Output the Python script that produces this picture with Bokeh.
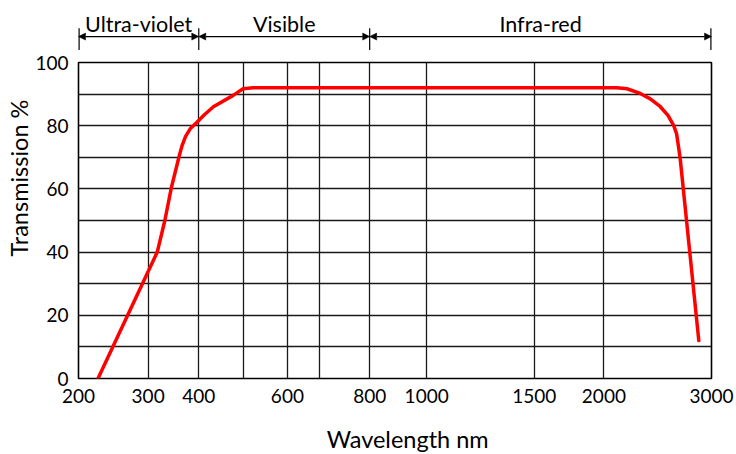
import numpy as np
from bokeh.plotting import figure
from bokeh.layouts import column
from bokeh.models import FixedTicker, Arrow, NormalHead, Title
from bokeh.core.properties import value
from bokeh.embed import file_html
from bokeh.resources import INLINE

# --- custom (piecewise) wavelength scale: wavelength -> percent of axis width
scale_wl = [200, 300, 400, 500, 600, 700, 800, 1000, 1500, 2000, 3000]
scale_pos = [0, 11, 19, 26, 33, 38, 46, 55, 72, 83, 100]

# --- tick labels
x_label_wl = [200, 300, 400, 600, 800, 1000, 1500, 2000, 3000]
x_label_txt = ["200", "300", "400", "600", "800", "1000", "1500", "2000", "3000"]
x_grid_wl = [200, 300, 400, 500, 600, 700, 800, 1000, 1500, 2000, 3000]
y_ticks = [0, 20, 40, 60, 80, 100]
y_grid = [0, 10, 20, 30, 40, 50, 60, 70, 80, 90, 100]

# --- transmission curve
wavelength = [228, 318, 333, 346, 361.5, 367, 374, 383, 396, 412, 433, 477.6, 500, 523,
              2121, 2214, 2338, 2431, 2525, 2597, 2649, 2675, 2695, 2711, 2882]
transmission = [0, 40, 50, 60.5, 70.5, 73.7, 76.6, 79, 81, 83.4, 86, 89.6, 91.7, 92,
                92, 91.7, 90.2, 88.5, 86, 83.2, 80, 77.5, 73, 69, 12]

# --- spectral regions
region_names = ["Ultra-violet", "Visible", "Infra-red"]
region_start = [200, 400, 800]
region_end = [400, 800, 3000]

x_title = "Wavelength nm"
y_title = "Transmission %"


def sx(w):
    return np.interp(w, scale_wl, scale_pos)


FONT = "Lato"
FS_TICK = "19px"
FS_REGION = "21.5px"
FS_TITLE = "23.5px"

# geometry (pixels)
W = 736
FRAME_W, FRAME_H = 633, 316
MAIN_L, MAIN_R = 78, 25
TOP_H, GAP_TOP, BOT_B, BOTTOM_H = 50, 12, 32, 44
px_y = 100 / FRAME_H          # y units per pixel


def blank(**kw):
    f = figure(output_backend="svg", toolbar_location=None,
               x_axis_type=None, y_axis_type=None, **kw)
    f.outline_line_color = None
    f.background_fill_color = "white"
    f.border_fill_color = "white"
    f.grid.visible = False
    return f


# ---------------- main plot ----------------
p = figure(width=W, height=GAP_TOP + FRAME_H + BOT_B,
           x_range=(0, 100), y_range=(0, 100),
           output_backend="svg", toolbar_location=None,
           min_border_left=MAIN_L, min_border_right=MAIN_R,
           min_border_top=GAP_TOP, min_border_bottom=BOT_B)
p.background_fill_color = "white"
p.border_fill_color = "white"
p.outline_line_color = "black"
p.outline_line_width = 1.6

p.xgrid.ticker = FixedTicker(ticks=[float(v) for v in sx(x_grid_wl)])
p.ygrid.ticker = FixedTicker(ticks=y_grid)
for g in (p.xgrid, p.ygrid):
    g.grid_line_color = "#1a1a1a"
    g.grid_line_width = 1.3

xt = [float(v) for v in sx(x_label_wl)]
p.xaxis.ticker = FixedTicker(ticks=xt)
p.xaxis.major_label_overrides = dict(zip(xt, x_label_txt))
p.yaxis.ticker = FixedTicker(ticks=y_ticks)
for ax in (p.xaxis, p.yaxis):
    ax.major_tick_line_color = None
    ax.minor_tick_line_color = None
    ax.major_tick_out = 0
    ax.major_tick_in = 0
    ax.minor_tick_out = 0
    ax.minor_tick_in = 0
    ax.axis_line_color = None
    ax.major_label_text_font = FONT
    ax.major_label_text_font_size = FS_TICK
    ax.major_label_text_color = "black"
p.xaxis.major_label_standoff = 10
p.yaxis.major_label_standoff = 10

# y-axis title (left panel, shifted up like the reference)
p.add_layout(Title(text=y_title, align="left", offset=122,
                   text_font=FONT, text_font_size=FS_TITLE,
                   text_font_style="normal", text_color="black",
                   standoff=0, vertical_align="bottom"), "left")

p.line(sx(wavelength), transmission, line_color="#ff0000", line_width=3.5,
       line_join="round", line_cap="round")

# ---------------- region annotation strip (above) ----------------
top = blank(width=W, height=TOP_H,
            x_range=(0, 100),
            y_range=(100 + GAP_TOP * px_y, 100 + (GAP_TOP + TOP_H) * px_y),
            min_border_left=MAIN_L, min_border_right=MAIN_R,
            min_border_top=0, min_border_bottom=0)
bounds = sorted(set(region_start + region_end))
inner = bounds[1:-1]
outer = [bounds[0], bounds[-1]]
top.segment(x0=sx(inner), y0=103.8, x1=sx(inner), y1=110.8,
            line_color="black", line_width=1.2)
top.segment(x0=sx(outer), y0=103.8, x1=sx(outer), y1=110.8,
            line_color="black", line_width=2.4)
for a, b in zip(region_start, region_end):
    xa, xb = float(sx(a)), float(sx(b))
    top.add_layout(Arrow(x_start=xa, x_end=xb, y_start=108.2, y_end=108.2,
                         start=NormalHead(size=7, fill_color="black",
                                          line_color="black", line_width=0.5),
                         end=NormalHead(size=7, fill_color="black",
                                        line_color="black", line_width=0.5),
                         line_color="black", line_width=1.2))
centers = [(float(sx(a)) + float(sx(b))) / 2 for a, b in zip(region_start, region_end)]
top.text(x=centers, y=[112.1] * 3, text=region_names, text_font=value(FONT),
         text_font_size=value(FS_REGION), text_align="center",
         text_baseline="middle", text_color="black")

# ---------------- x title strip (below) ----------------
bot = blank(width=W, height=BOTTOM_H,
            x_range=(0, 100),
            y_range=(-(BOT_B + BOTTOM_H) * px_y, -BOT_B * px_y),
            min_border_left=MAIN_L, min_border_right=MAIN_R,
            min_border_top=0, min_border_bottom=0)
bot.text(x=[52], y=[-19.3], text=[x_title], text_font=value(FONT),
         text_font_size=value(FS_TITLE), text_align="center",
         text_baseline="middle", text_color="black")

layout = column(top, p, bot, spacing=0)
open("out.html", "w").write(file_html(layout, INLINE))
